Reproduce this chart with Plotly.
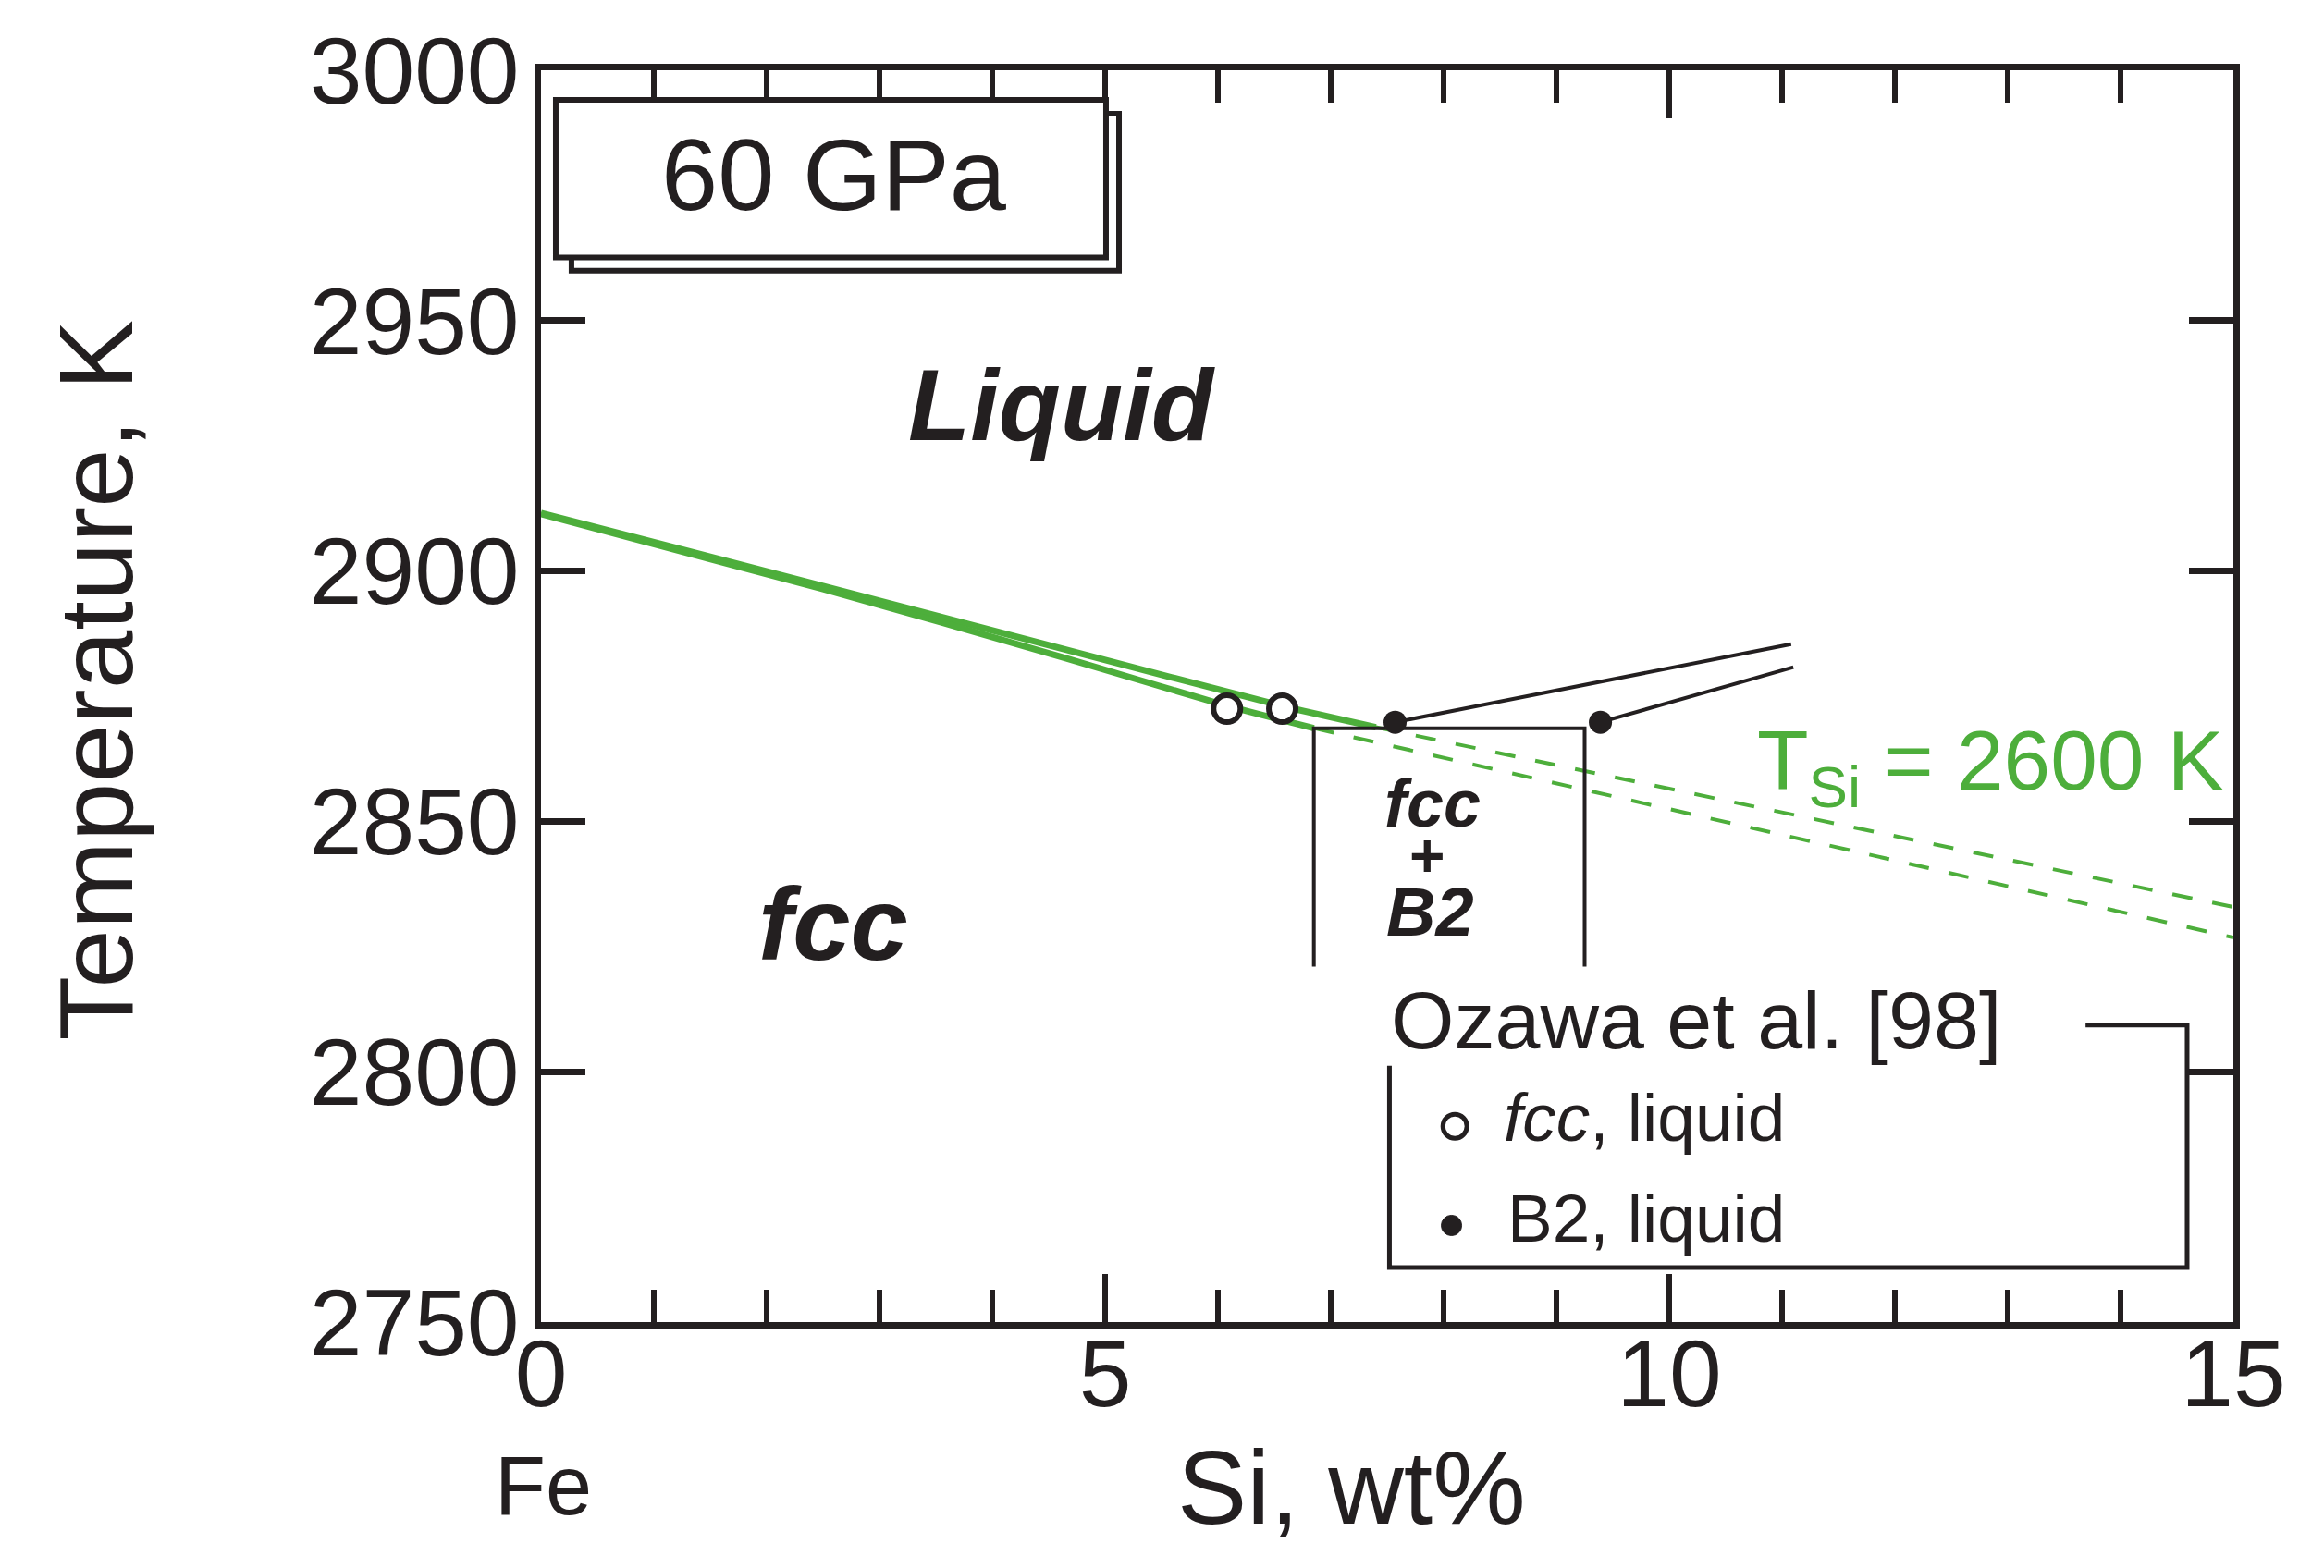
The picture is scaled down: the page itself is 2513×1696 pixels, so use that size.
import plotly.graph_objects as go

# --- data (Si wt%, temperature K) ---
liq_upper_si = [0, 2.5, 4.65, 6.58, 7.4]
liq_upper_t = [2911.6, 2897.0, 2884.3, 2873.0, 2868.8]
liq_lower_si = [0, 2.5, 4.65, 6.06, 6.85]
liq_lower_t = [2911.4, 2896.4, 2882.6, 2873.2, 2868.6]

meta_upper_si = [7.4, 15]
meta_upper_t = [2868.8, 2832.9]
meta_lower_si = [6.85, 15]
meta_lower_t = [2868.6, 2826.8]

eutectic_si = [6.85, 6.85, 9.25, 9.25]
eutectic_t = [2821, 2868.6, 2868.6, 2821]

b2_liq1_si = [7.57, 11.08]
b2_liq1_t = [2869.8, 2885.4]
b2_liq2_si = [9.39, 11.1]
b2_liq2_t = [2869.8, 2880.8]

fcc_liq_si = [6.08, 6.57]
fcc_liq_t = [2872.5, 2872.5]
b2_liq_si = [7.57, 9.39]
b2_liq_t = [2869.8, 2869.8]

x_ticks = [0, 5, 10, 15]
y_ticks = [2750, 2800, 2850, 2900, 2950, 3000]

GREEN = '#4dae3b'
INK = '#231f20'
FONT = 'Arial, Liberation Sans, sans-serif'

fig = go.Figure()

# green fcc/liquid curves
for xs, ys in [(liq_upper_si, liq_upper_t), (liq_lower_si, liq_lower_t)]:
    fig.add_trace(go.Scatter(x=xs, y=ys, mode='lines', showlegend=False,
                             line=dict(color=GREEN, width=7, shape='spline', smoothing=0.6)))
for xs, ys in [(meta_upper_si, meta_upper_t), (meta_lower_si, meta_lower_t)]:
    fig.add_trace(go.Scatter(x=xs, y=ys, mode='lines', showlegend=False,
                             line=dict(color=GREEN, width=4, dash='22px,22px')))

# black B2 lines and the fcc+B2 field
for xs, ys in [(eutectic_si, eutectic_t), (b2_liq1_si, b2_liq1_t), (b2_liq2_si, b2_liq2_t)]:
    fig.add_trace(go.Scatter(x=xs, y=ys, mode='lines', showlegend=False,
                             line=dict(color=INK, width=4)))

# Ozawa et al. points
fig.add_trace(go.Scatter(x=fcc_liq_si, y=fcc_liq_t, mode='markers', showlegend=False,
                         marker=dict(size=29, color='white', line=dict(color=INK, width=6))))
fig.add_trace(go.Scatter(x=b2_liq_si, y=b2_liq_t, mode='markers', showlegend=False,
                         marker=dict(size=25, color=INK)))

# "60 GPa" box with its shadow
fig.add_shape(type='rect', x0=0.27, x1=5.123, y0=2960.0, y1=2991.3,
              line=dict(color=INK, width=6), fillcolor='white', layer='above')
fig.add_shape(type='rect', x0=0.131, x1=5.008, y0=2962.6, y1=2994.1,
              line=dict(color=INK, width=6), fillcolor='white', layer='above')

# legend frame (open at the top where the title sits)
fig.add_shape(type='path', path='M 13.69 2809.3 L 14.59 2809.3 L 14.59 2760.9 L 7.52 2760.9 L 7.52 2801.2',
              line=dict(color=INK, width=5))
fig.add_shape(type='circle', xref='x', yref='y', xsizemode='pixel', ysizemode='pixel',
              xanchor=8.10, yanchor=2789.1, x0=-13, x1=13, y0=-13, y1=13,
              line=dict(color=INK, width=5), fillcolor='white')
fig.add_shape(type='circle', xref='x', yref='y', xsizemode='pixel', ysizemode='pixel',
              xanchor=8.07, yanchor=2769.3, x0=-11, x1=11, y0=-11, y1=11,
              line=dict(color=INK, width=1), fillcolor=INK)


def label(text, x, y, size, color=INK, xanchor='center', **kw):
    fig.add_annotation(text=text, x=x, y=y, showarrow=False, xanchor=xanchor, yanchor='middle',
                       font=dict(family=FONT, size=size, color=color), **kw)


label('60 GPa', 2.6, 2979.3, 110)
label('<b><i>Liquid</i></b>', 4.62, 2933.2, 110)
label('<b><i>fcc</i></b>', 2.59, 2829.5, 112)
label('<b><i>fcc</i></b>', 7.9, 2853.5, 72)
label('<b>+</b>', 7.86, 2843.2, 66)
label('<b><i>B2</i></b>', 7.88, 2831.8, 74)
label('T<sub>Si</sub> = 2600 K', 14.93, 2860.9, 91, color=GREEN, xanchor='right')
label('Ozawa et al. [98]', 7.52, 2810.2, 88, xanchor='left')
label('<i>fcc</i>, liquid', 8.52, 2790.9, 73, xanchor='left')
label('B2, liquid', 8.55, 2770.8, 73, xanchor='left')

# axis titles and the Fe end-member mark
fig.add_annotation(text='Temperature, K', xref='paper', yref='paper', x=-0.2634, y=0.513,
                   textangle=-90, showarrow=False, xanchor='center', yanchor='middle',
                   font=dict(family=FONT, size=114, color=INK))
fig.add_annotation(text='Si, wt%', xref='paper', yref='paper', x=0.479, y=-0.1325,
                   showarrow=False, xanchor='center', yanchor='middle',
                   font=dict(family=FONT, size=113, color=INK))
fig.add_annotation(text='Fe', xref='paper', yref='paper', x=0.0016, y=-0.131,
                   showarrow=False, xanchor='center', yanchor='middle',
                   font=dict(family=FONT, size=90, color=INK))

fig.update_layout(
    width=2513,
    height=1696,
    margin=dict(l=577, r=106, t=65, b=274),
    paper_bgcolor='white',
    plot_bgcolor='white',
    showlegend=False,
    font=dict(family=FONT, color=INK),
    xaxis=dict(
        range=[0, 15],
        tickmode='array',
        tickvals=x_ticks,
        ticks='inside',
        ticklen=52,
        tickwidth=6,
        tickcolor=INK,
        showline=True,
        linewidth=7,
        linecolor=INK,
        mirror='allticks',
        showgrid=False,
        zeroline=False,
        tickfont=dict(size=102, color=INK),
        ticklabelstandoff=-38,
        minor=dict(dtick=1, ticks='inside', ticklen=35, tickwidth=6, tickcolor=INK, showgrid=False),
    ),
    yaxis=dict(
        range=[2750, 3000],
        tickmode='array',
        tickvals=y_ticks,
        ticks='inside',
        ticklen=48,
        tickwidth=7,
        tickcolor=INK,
        showline=True,
        linewidth=7,
        linecolor=INK,
        mirror='allticks',
        showgrid=False,
        zeroline=False,
        tickfont=dict(size=102, color=INK),
        ticklabelstandoff=-4,
    ),
)

fig.write_html("out.html")
